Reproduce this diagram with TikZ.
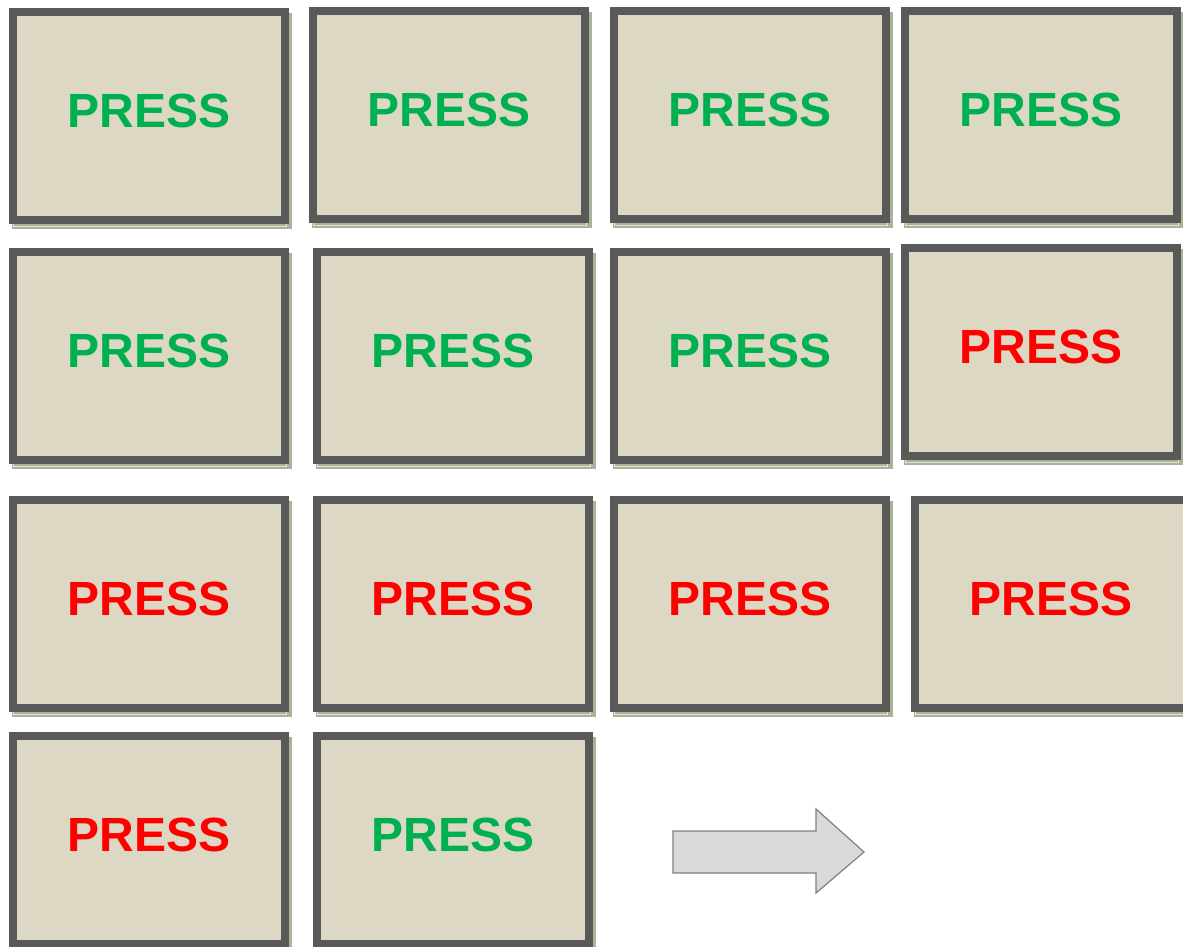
\documentclass[tikz,border=0pt]{standalone}
\usepackage{fontspec}
\setmainfont{Liberation Sans}
\definecolor{frame}{HTML}{595959}
\definecolor{tan}{HTML}{DDD8C3}
\definecolor{shade}{HTML}{A8B398}
\definecolor{shadelite}{HTML}{E6E6DA}
\definecolor{go}{HTML}{00B050}
\definecolor{stop}{HTML}{FF0000}
\definecolor{arrowfill}{HTML}{D9D9D9}
\definecolor{arrowline}{HTML}{808080}
\tikzset{
  pressbox/.style={draw=frame, fill=tan, line width=8pt, minimum width=272pt, minimum height=208pt,
    inner sep=0pt, text height=35pt, text depth=12pt, font=\fontsize{48}{48}\selectfont\bfseries},
  gobox/.style={pressbox, text=go},
  stopbox/.style={pressbox, text=stop},
  boxshadow/.style={draw=shade, line width=8pt},
  boxshadowin/.style={draw=shadelite, line width=1pt},
  bigarrow/.style={draw=arrowline, fill=arrowfill, line width=1.2pt, line join=miter}
}
\newcommand{\pbox}[4]{%
  \draw[boxshadow] ($(#2,#3)+(-133,-99)$) rectangle ($(#2,#3)+(139,109)$);
  \draw[boxshadowin] ($(#2,#3)+(-136,-102)$) rectangle ($(#2,#3)+(137,110)$);
  \node[#4] (#1) at (#2,#3) {PRESS};}
\usetikzlibrary{calc}
\begin{document}
\begin{tikzpicture}[x=1pt,y=-1pt]
\useasboundingbox (0,0) rectangle (1183,947);
\clip (0,0) rectangle (1183,947);
\fill[white] (0,0) rectangle (1183,947);
\pbox{b1}{149}{116}{gobox}
\pbox{b2}{449}{115}{gobox}
\pbox{b3}{750}{115}{gobox}
\pbox{b4}{1041}{115}{gobox}
\pbox{b5}{149}{356}{gobox}
\pbox{b6}{453}{356}{gobox}
\pbox{b7}{750}{356}{gobox}
\pbox{b8}{1041}{352}{stopbox}
\pbox{b9}{149}{604}{stopbox}
\pbox{b10}{453}{604}{stopbox}
\pbox{b11}{750}{604}{stopbox}
\pbox{b12}{1051}{604}{stopbox}
\pbox{b13}{149}{840}{stopbox}
\pbox{b14}{453}{840}{gobox}
\draw[bigarrow] (673,831) -- (816,831) -- (816,809) -- (864,852) -- (816,893) -- (816,873) -- (673,873) -- cycle;
\end{tikzpicture}
\end{document}
